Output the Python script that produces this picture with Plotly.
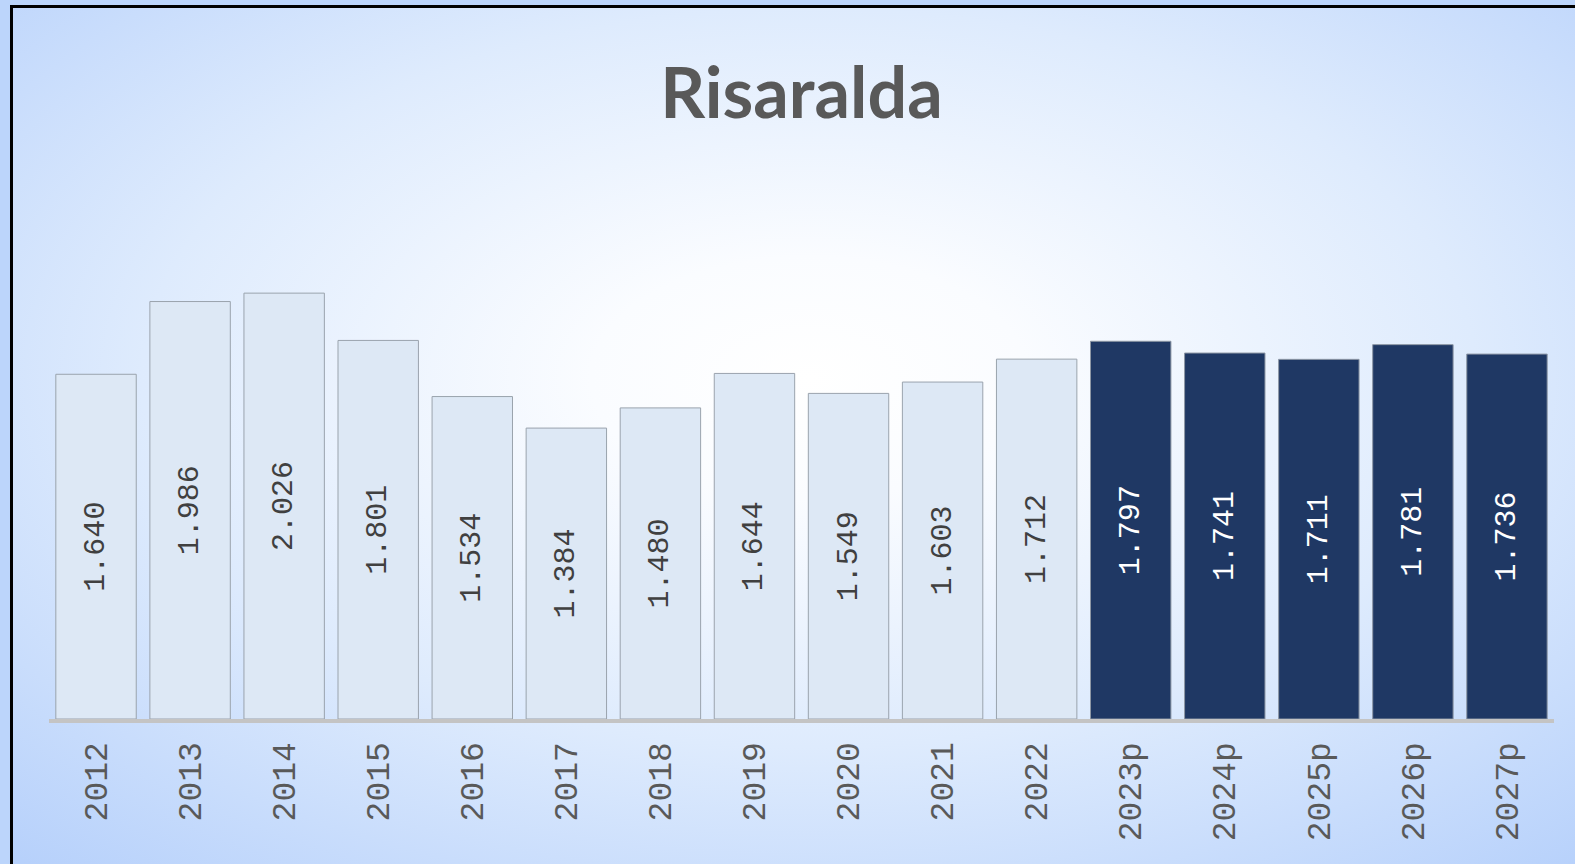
import base64
import plotly.graph_objects as go

title = "Risaralda"
years = ["2012", "2013", "2014", "2015", "2016", "2017", "2018", "2019",
         "2020", "2021", "2022", "2023p", "2024p", "2025p", "2026p", "2027p"]
values = [1.640, 1.986, 2.026, 1.801, 1.534, 1.384, 1.480, 1.644,
          1.549, 1.603, 1.712, 1.797, 1.741, 1.711, 1.781, 1.736]
projected = [y.endswith("p") for y in years]

W, H = 1575, 864
L, R, T, B = 49, 21, 150, 145

light_fill = "#dde8f5"
dark_fill = "#1f3864"
fills = [dark_fill if p else light_fill for p in projected]
text_colors = ["#ffffff" if p else "#404040" for p in projected]
line_colors = ["#9aa3ad" if not p else "#8d97a5" for p in projected]

svg = f'''<svg xmlns="http://www.w3.org/2000/svg" width="{W}" height="{H}" viewBox="0 0 {W} {H}" preserveAspectRatio="none">
<defs><radialGradient id="g" cx="0.5" cy="0.42" r="0.76" fx="0.5" fy="0.42">
<stop offset="0" stop-color="#ffffff"/>
<stop offset="0.18" stop-color="#fafcff"/>
<stop offset="0.55" stop-color="#deebfd"/>
<stop offset="1" stop-color="#b4cffb"/>
</radialGradient></defs>
<rect x="0" y="0" width="{W}" height="{H}" fill="#bcd5fb"/>
<rect x="11.5" y="6.5" width="{W+20}" height="{H+20}" fill="url(#g)" stroke="#000000" stroke-width="3"/>
</svg>'''
src = "data:image/svg+xml;base64," + base64.b64encode(svg.encode()).decode()

pw = W - L - R
ph = H - T - B
px_per_unit = 210.2
ymax = ph / px_per_unit

fig = go.Figure(go.Bar(
    x=years, y=values,
    text=[f"{v:.3f}" for v in values],
    textposition="inside", insidetextanchor="middle", textangle=-90,
    textfont=dict(family="Liberation Mono", size=30, color=text_colors),
    marker=dict(color=fills, line=dict(color=line_colors, width=1)),
    cliponaxis=False,
))

fig.update_layout(
    width=W, height=H,
    margin=dict(l=L, r=R, t=T, b=B),
    paper_bgcolor="#bcd5fb", plot_bgcolor="rgba(0,0,0,0)",
    bargap=0.145,
    showlegend=False,
    title=dict(text=f"<b>{title}</b>", x=0.5, xanchor="center", xref="paper",
               y=1 - 93 / H, yanchor="middle", yref="container",
               font=dict(family="Lato", size=70, color="#595959")),
    images=[dict(source=src, xref="paper", yref="paper",
                 x=-L / pw, y=1 + T / ph, sizex=W / pw, sizey=H / ph,
                 xanchor="left", yanchor="top", sizing="stretch", layer="below")],
    xaxis=dict(type="category", showgrid=False, zeroline=False,
               showline=True, linecolor="#c4c4c4", linewidth=4,
               ticks="outside", tickcolor="rgba(0,0,0,0)", ticklen=6,
               tickangle=-90,
               tickfont=dict(family="Liberation Mono", size=33, color="#595959")),
    yaxis=dict(range=[0, ymax], visible=False, showgrid=False, zeroline=False),
)

fig.write_html("out.html", config={"displayModeBar": False},
               post_script="document.body.style.margin='0';document.body.style.overflow='hidden';")
